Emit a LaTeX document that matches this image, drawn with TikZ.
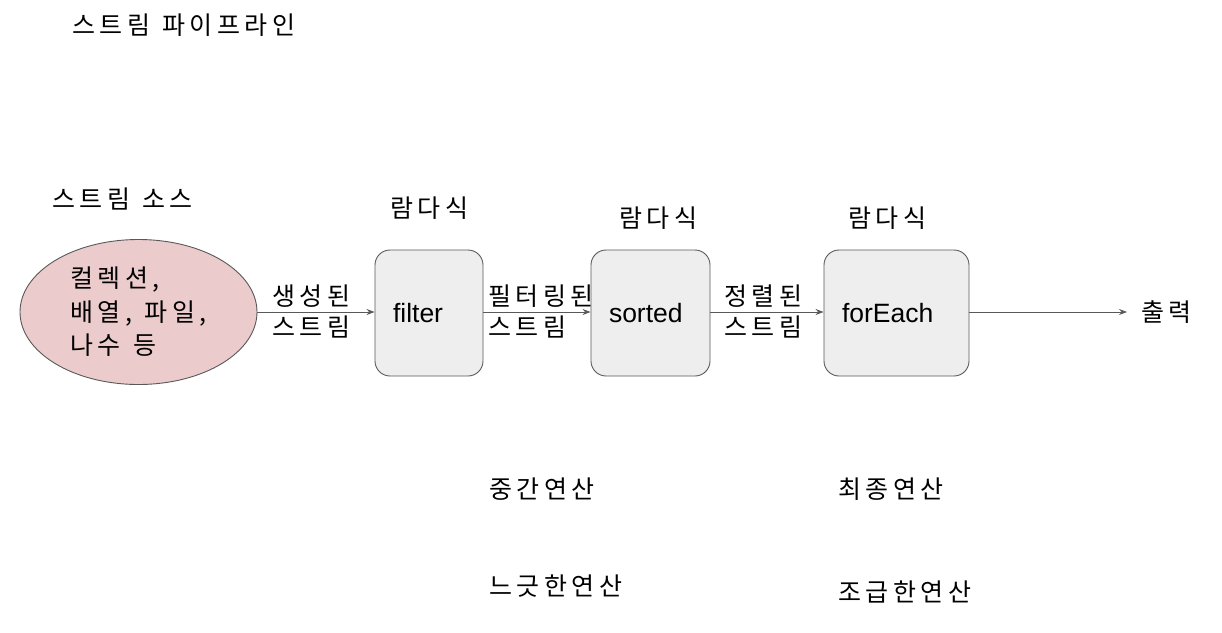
\documentclass[tikz,border=0pt]{standalone}
\usepackage{fontspec}
\setmainfont{Liberation Sans}
\newfontfamily\kr[LetterSpace=18,WordSpace=1.2]{Noto Sans CJK KR}
\usetikzlibrary{shapes.geometric,arrows.meta}
\definecolor{edgegray}{HTML}{595959}
\definecolor{boxfill}{HTML}{EEEEEE}
\definecolor{pinkfill}{HTML}{EBCBCB}
\tikzset{
  txt/.style={font=\kr\fontsize{25}{32}\selectfont, inner sep=0pt, anchor=west, align=left},
  opbox/.style={draw=edgegray, fill=boxfill, rounded corners=15pt, line width=0.9pt,
     minimum height=126pt, inner xsep=18pt, inner ysep=0pt, align=left,
     font=\fontsize{26.5}{30}\selectfont},
  arr/.style={draw=edgegray, line width=0.9pt, -{Stealth[length=8pt,width=6pt]}},
}
\begin{document}
\begin{tikzpicture}[x=1pt,y=-1pt]
\useasboundingbox (0,0) rectangle (1222,632);
\node[txt] (title) at (72,25) {스트림 파이프라인};
\node[txt] (srclabel) at (52,199) {스트림 소스};
\node[draw=edgegray, fill=pinkfill, ellipse, line width=0.9pt, minimum width=237pt, minimum height=145pt,
      inner sep=0pt, align=left, font=\kr\fontsize{25}{33.5}\selectfont] (src) at (138.5,312)
      {컬렉션,\\배열, 파일,\\나수 등};
\node[opbox, text width=72pt] (filter) at (429,313) {filter};
\node[opbox, text width=83pt] (sorted) at (650.5,313) {sorted};
\node[opbox, text width=109pt] (foreach) at (896.5,313) {forEach};
\node[txt] (lam1) at (390,208) {람다식};
\node[txt] (lam2) at (619,218) {람다식};
\node[txt] (lam3) at (848,218) {람다식};
\node[txt, font=\kr\fontsize{25}{31}\selectfont] (e1) at (272,311) {생성된\\스트림};
\node[txt, font=\kr\fontsize{25}{31}\selectfont] (e2) at (488,311) {필터링된\\스트림};
\node[txt, font=\kr\fontsize{25}{31}\selectfont] (e3) at (724,311) {정렬된\\스트림};
\coordinate (outend) at (1127,312);
\node[txt] (out) at (1141,312) {출력};
\draw[arr] (src.east) -- (filter.west |- src.east);
\draw[arr] (filter.east |- src.east) -- (sorted.west |- src.east);
\draw[arr] (sorted.east |- src.east) -- (foreach.west |- src.east);
\draw[arr] (foreach.east |- src.east) -- (outend);
\node[txt] (mid1) at (489,489) {중간연산};
\node[txt] (mid2) at (489,586) {느긋한연산};
\node[txt] (term1) at (838,489) {최종연산};
\node[txt] (term2) at (838,592) {조급한연산};
\end{tikzpicture}
\end{document}
